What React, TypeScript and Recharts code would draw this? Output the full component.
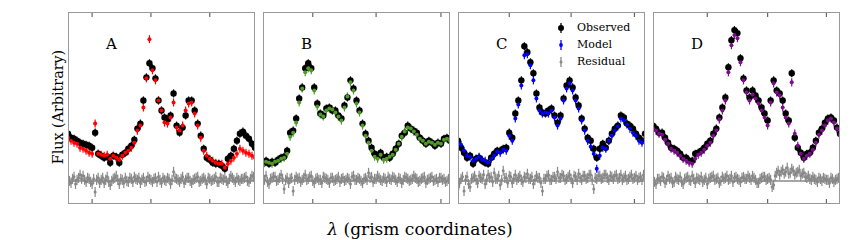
import { ScatterChart, Scatter, XAxis, YAxis, ErrorBar, ReferenceLine } from "recharts";

// grism pixel index shared by all four panels
const lambda = [
  0, 1, 2, 3, 4, 5, 6, 7, 8, 9, 10, 11, 12, 13, 14, 15, 16, 17, 18, 19, 20, 21, 22, 23, 24, 25, 26, 27, 28, 29, 30,
  31, 32, 33, 34, 35, 36, 37, 38, 39, 40, 41, 42, 43, 44, 45, 46, 47, 48, 49, 50, 51, 52, 53, 54, 55, 56, 57, 58, 59,
  60, 61, 62,
];
// residuals are sampled on a half-pixel grid
const lambdaFine = Array.from({ length: 125 }, (_, i) => i / 2);

const obsA = [
  47, 43, 42, 40, 38, 37, 36, 35, 33, 48, 27, 25, 23, 24, 18, 25, 24, 18, 26, 28, 32, 35, 41, 52, 57, 80, 103, 117, 112,
  102, 80, 70, 63, 61, 65, 87, 55, 48, 53, 65, 80, 80, 70, 57, 45, 32, 23, 21, 18, 17, 17, 15, 12, 22, 25, 32, 40, 47,
  49, 45, 42, 37, 33,
];
const modelA = [
  43, 40, 38, 37, 33, 32, 30, 28, 27, 57, 27, 26, 25, 26, 22, 25, 23, 21, 25, 28, 30, 33, 38, 50, 55, 73, 102, 141, 110,
  100, 80, 70, 58, 57, 63, 78, 53, 50, 55, 70, 77, 78, 67, 55, 43, 30, 25, 22, 20, 18, 17, 17, 13, 17, 20, 23, 27, 32,
  30, 28, 27, 25, 23,
];
const residA = [
  3, 0, -2, 2, 4, -3, 1, 3, 6, 2, 5, 1, -1, 3, 2, -1, -3, 2, -11, 1, 3, -2, 1, 3, -2, 1, 4, -1, -4, 0, 2, 3, 5, 1, -3,
  2, 1, -2, 3, 0, -1, 3, 2, -1, 4, 2, 1, 3, -2, 1, 3, -1, 0, 4, 2, 1, -1, 2, 3, -1, 4, 1, -2, 3, 1, 0, 3, 2, -3, 1, 9,
  3, 2, 1, -1, 2, 4, -2, 1, 3, 3, 0, -2, 1, 2, 3, 4, -1, 0, 2, 3, 1, -3, 3, 2, 0, 1, 2, 4, -1, -1, 3, 2, 1, 3, 0, -2, 2,
  5, 3, 1, -1, 3, 1, 0, 2, 2, 3, 4, 0, -1, 2, 5, 4, 2,
];

const obsB = [
  17, 20, 17, 19, 18, 21, 23, 24, 30, 48, 50, 62, 82, 93, 112, 117, 112, 93, 77, 67, 65, 72, 73, 70, 70, 65, 62, 75, 83,
  100, 92, 80, 70, 57, 47, 40, 33, 27, 25, 28, 23, 24, 23, 27, 32, 37, 45, 48, 55, 52, 50, 48, 43, 40, 37, 40, 38, 35,
  38, 37, 42, 43, 40,
];
const modelB = [
  15, 19, 18, 17, 19, 20, 22, 23, 27, 44, 48, 58, 78, 92, 108, 112, 110, 90, 74, 66, 64, 70, 72, 71, 68, 64, 60, 73, 84,
  98, 90, 77, 68, 55, 45, 38, 30, 24, 22, 26, 21, 22, 24, 26, 31, 37, 44, 49, 53, 52, 49, 46, 42, 40, 37, 39, 38, 36,
  38, 37, 41, 42, 40,
];
const residB = [
  2, 1, 5, -1, -3, 2, 3, 4, 4, 0, 1, 3, 6, 2, -8, 1, 3, -2, 2, 3, -10, 1, 4, 2, 3, -1, 1, 3, 6, 1, 2, 4, 5, 0, -2, 2, 3,
  1, 1, -2, 4, 3, 2, 1, -2, 3, 3, 0, 1, 2, 4, -1, 2, 3, 0, 1, 3, 2, -3, 4, 5, 1, 1, 3, 2, 0, -2, 2, 3, 1, 8, 3, 4, -1, 2,
  2, 5, 3, 1, 0, 3, 2, -1, 4, 2, 1, 4, 3, 1, -1, 3, 2, -2, 1, 4, 3, 2, 0, 1, 2, 5, 3, 2, -1, 0, 2, 3, 4, -2, 1, 2, 3, 4,
  0, 1, 2, -1, 3, 3, 1, 2, -1, 0, 2, 2,
];

const obsC = [
  40, 33, 28, 23, 25, 17, 22, 23, 20, 18, 17, 23, 27, 30, 30, 32, 33, 48, 43, 67, 80, 100, 134, 128, 118, 107, 87, 73,
  68, 67, 70, 72, 65, 58, 65, 82, 95, 100, 93, 83, 75, 62, 52, 43, 40, 32, 23, 32, 37, 33, 40, 47, 52, 55, 65, 63, 57,
  55, 52, 47, 43, 40, 47,
];
const modelC = [
  38, 36, 30, 25, 24, 20, 22, 24, 21, 20, 18, 22, 25, 29, 28, 31, 30, 45, 40, 62, 76, 95, 125, 126, 115, 100, 82, 70,
  67, 68, 67, 70, 63, 55, 62, 80, 92, 97, 90, 80, 72, 60, 50, 40, 34, 27, 12, 25, 33, 32, 40, 45, 50, 54, 62, 60, 56,
  52, 48, 45, 40, 38, 42,
];
const residC = [
  -8, -2, 2, 4, -10, 1, 4, -3, -6, 2, 3, 5, 1, -2, 5, 3, 2, 6, -3, 1, 6, 3, 4, -1, 8, 2, 2, 5, -4, 1, 10, 3, 3, -2, 5,
  4, -2, 2, 6, 1, 3, 5, 1, -1, 4, 3, 7, 2, 2, 4, -3, 1, 5, 3, 3, -2, -10, 2, 2, 5, 6, 1, 1, 4, 4, 2, 9, 3, 3, 6, 5, 1,
  2, 4, 6, 2, -2, 5, 4, 1, 7, 3, 1, 5, 5, 2, 3, 6, 6, 1, -8, 3, 2, 5, 5, 2, 3, 6, 6, 3, 1, 5, 4, 2, 5, 6, 2, 3, 6, 1,
  3, 5, 1, 2, 4, 6, 2, 3, 5, 1, 3, 4, 1, 6, 4,
];

const obsD = [
  55, 52, 48, 48, 43, 38, 33, 32, 30, 27, 23, 23, 20, 20, 27, 28, 30, 33, 37, 40, 47, 52, 63, 73, 83, 113, 140, 150,
  147, 122, 102, 90, 83, 90, 85, 80, 73, 67, 60, 80, 100, 90, 87, 80, 67, 60, 107, 43, 33, 28, 23, 27, 28, 33, 40, 48,
  52, 58, 62, 63, 60, 53, 47,
];
const modelD = [
  52, 50, 47, 46, 41, 37, 32, 30, 28, 25, 22, 20, 18, 17, 22, 26, 28, 31, 35, 38, 45, 50, 61, 70, 80, 108, 135, 145,
  142, 118, 100, 88, 80, 86, 82, 77, 70, 63, 55, 78, 97, 88, 85, 73, 63, 57, 98, 47, 35, 27, 22, 25, 27, 31, 38, 46, 50,
  55, 60, 62, 58, 52, 46,
];
const residD = [
  1, -1, -3, 2, 2, 0, 4, 3, -2, 1, 5, 2, 3, -2, -1, 4, 2, 1, 4, -1, -3, 2, 3, 4, 1, 0, 5, 2, -2, 3, 2, 1, 4, -1, 1, 3,
  -3, 2, 3, 4, 5, 1, 2, 3, -2, 0, 4, 2, 3, 5, 1, 2, 5, -1, 3, 4, 2, 1, -1, 3, 4, 2, 2, 5, 3, 1, 5, 3, 1, -2, -2, 2, 3,
  4, 4, 1, 2, 3, 1, -6, -4, 5, 8, 10, 6, 9, 11, 7, 9, 13, 7, 8, 12, 10, 6, 8, 9, 11, 5, 7, 8, 4, 3, 5, 2, 1, 4, 2, 1,
  -1, 3, 2, 0, 3, 2, 1, 1, -2, 3, 2, -1, 1, 2, 3, 1,
];

const ticksA = [8, 27.5, 47];
const ticksB = [16.5, 37.5, 59];
const ticksC = [17, 37.5, 58.5];
const ticksD = [18, 38, 57.5];

const X_DOMAIN = [0, 62];
const Y_DOMAIN = [-23, 168];
const TICK_LEN = 5;

const OBS_ERR = 4;
const MODEL_ERR = 4;
const RESID_ERR = 5;

const GRAY = "#888888";
const FRAME = "#999999";
const FONT = "'DejaVu Serif', serif";

const panels = [
  { name: "A", left: 68, obs: obsA, model: modelA, resid: residA, ticks: ticksA, color: "#ff0000" },
  { name: "B", left: 263, obs: obsB, model: modelB, resid: residB, ticks: ticksB, color: "#4f9a2a" },
  { name: "C", left: 458, obs: obsC, model: modelC, resid: residC, ticks: ticksC, color: "#0000ff" },
  { name: "D", left: 653, obs: obsD, model: modelD, resid: residD, ticks: ticksD, color: "#7e0d8e" },
];

const W = 187;
const H = 192;

const dot = (r: number, fill: string) => (p: any) => <circle cx={p.cx} cy={p.cy} r={r} fill={fill} />;

function Panel({ p }: { p: (typeof panels)[number] }) {
  const obs = lambda.map((x, i) => ({ x, y: p.obs[i], e: OBS_ERR }));
  const model = lambda.map((x, i) => ({ x, y: p.model[i], e: MODEL_ERR }));
  const resid = lambdaFine.map((x, i) => ({ x, y: p.resid[i], e: RESID_ERR }));
  const [y0, y1] = Y_DOMAIN;
  return (
    <div style={{ position: "absolute", left: p.left, top: 11.5, width: W, height: H }}>
      <ScatterChart width={W} height={H} margin={{ top: 0, right: 0, bottom: 0, left: 0 }}>
        <XAxis type="number" dataKey="x" domain={X_DOMAIN} hide allowDataOverflow />
        <YAxis type="number" dataKey="y" domain={Y_DOMAIN} hide allowDataOverflow />
        <ReferenceLine y={0} stroke={GRAY} strokeWidth={1.5} />
        <Scatter data={resid} shape={dot(1.5, GRAY)} isAnimationActive={false}>
          <ErrorBar dataKey="e" direction="y" width={0} stroke={GRAY} strokeWidth={1.2} isAnimationActive={false} />
        </Scatter>
        <Scatter data={obs} shape={dot(3.2, "#000")} isAnimationActive={false}>
          <ErrorBar dataKey="e" direction="y" width={0} stroke="#000" strokeWidth={1.2} isAnimationActive={false} />
        </Scatter>
        <Scatter data={model} shape={dot(2, p.color)} isAnimationActive={false}>
          <ErrorBar dataKey="e" direction="y" width={0} stroke={p.color} strokeWidth={1.2} isAnimationActive={false} />
        </Scatter>
        {p.ticks.map((t) => (
          <ReferenceLine
            key={`top-${t}`}
            segment={[
              { x: t, y: y1 },
              { x: t, y: y1 - TICK_LEN },
            ]}
            ifOverflow="visible"
            stroke="#666"
            strokeWidth={1.2}
          />
        ))}
        {p.ticks.map((t) => (
          <ReferenceLine
            key={`bot-${t}`}
            segment={[
              { x: t, y: y0 },
              { x: t, y: y0 + TICK_LEN },
            ]}
            ifOverflow="visible"
            stroke="#666"
            strokeWidth={1.2}
          />
        ))}
      </ScatterChart>
      <div
        style={{
          position: "absolute",
          inset: 0,
          border: `1.6px solid ${FRAME}`,
          boxSizing: "border-box",
          pointerEvents: "none",
        }}
      />
      <div
        style={{
          position: "absolute",
          left: 38,
          top: 24,
          fontFamily: FONT,
          fontSize: 15,
          lineHeight: "16px",
        }}
      >
        {p.name}
      </div>
    </div>
  );
}

const legendItems = [
  { label: "Observed", color: "#000", r: 3 },
  { label: "Model", color: "#0000ff", r: 1.9 },
  { label: "Residual", color: GRAY, r: 1.5 },
];

export default function App() {
  return (
    <div style={{ position: "absolute", left: 0, top: 0, width: 857, height: 240, background: "#fff" }}>
      {panels.map((p) => (
        <Panel key={p.name} p={p} />
      ))}
      <div style={{ position: "absolute", left: 552, top: 19 }}>
        {legendItems.map((it) => (
          <div key={it.label} style={{ display: "flex", alignItems: "center", height: 17 }}>
            <svg width={20} height={14}>
              <line x1={9} x2={9} y1={2} y2={12} stroke={it.color} strokeWidth={1.3} />
              <circle cx={9} cy={7} r={it.r} fill={it.color} />
            </svg>
            <span style={{ fontFamily: FONT, fontSize: 11, marginLeft: 5 }}>{it.label}</span>
          </div>
        ))}
      </div>
      <div
        style={{
          position: "absolute",
          left: 58,
          top: 107,
          transform: "translate(-50%, -50%) rotate(-90deg)",
          fontFamily: FONT,
          fontSize: 14.3,
          whiteSpace: "nowrap",
        }}
      >
        Flux (Arbitrary)
      </div>
      <div
        style={{
          position: "absolute",
          left: 420,
          top: 229,
          transform: "translate(-50%, -50%)",
          fontFamily: FONT,
          fontSize: 17,
          whiteSpace: "nowrap",
        }}
      >
        <i>λ</i> (grism coordinates)
      </div>
    </div>
  );
}
